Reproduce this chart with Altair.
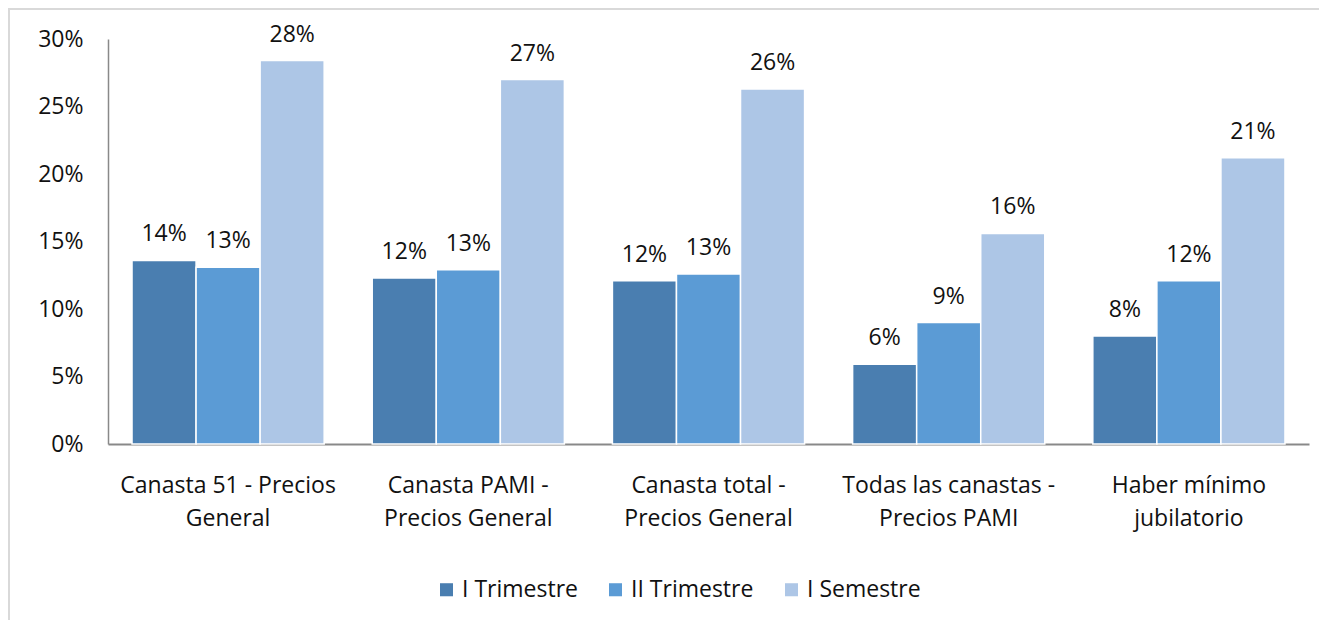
import altair as alt
import pandas as pd

categories = [
    "Canasta 51 - Precios\nGeneral",
    "Canasta PAMI -\nPrecios General",
    "Canasta total -\nPrecios General",
    "Todas las canastas -\nPrecios PAMI",
    "Haber mínimo\njubilatorio",
]
series = ["I Trimestre", "II Trimestre", "I Semestre"]
i_trimestre = [0.136, 0.123, 0.121, 0.059, 0.080]
ii_trimestre = [0.131, 0.129, 0.126, 0.090, 0.121]
i_semestre = [0.284, 0.270, 0.263, 0.156, 0.212]
y_ticks = [0, 0.05, 0.10, 0.15, 0.20, 0.25, 0.30]
colors = ["#4A7EB0", "#5B9BD5", "#ADC6E6"]

rows = []
for name, vals in zip(series, [i_trimestre, ii_trimestre, i_semestre]):
    for c, v in zip(categories, vals):
        rows.append({"cat": c, "serie": name, "value": v})
df = pd.DataFrame(rows)

FONT = "Open Sans"
FS = 23
W, H = 1201, 405

base = alt.Chart(df).encode(
    x=alt.X(
        "cat:N",
        sort=categories,
        scale=alt.Scale(paddingInner=0.2, paddingOuter=0.1),
        axis=alt.Axis(
            title=None,
            labelAngle=0,
            labelExpr="split(datum.label, '\\n')",
            labelLineHeight=33,
            labelPadding=30,
            labelFontSize=FS,
            labelFont=FONT,
            labelColor="#111111",
            labelLimit=0,
            ticks=False,
            domainColor="#898989",
            domainWidth=2,
            labelBaseline="top",
        ),
    ),
    xOffset=alt.XOffset("serie:N", sort=series),
    y=alt.Y(
        "value:Q",
        scale=alt.Scale(domain=[0, 0.3], nice=False),
        axis=alt.Axis(
            title=None,
            values=y_ticks,
            format=".0%",
            grid=False,
            ticks=False,
            labelPadding=25,
            labelFontSize=FS,
            labelFont=FONT,
            labelColor="#111111",
            domainColor="#898989",
            domainWidth=1.5,
        ),
    ),
)

bars = base.mark_bar(stroke="white", strokeWidth=1.5).encode(
    color=alt.Color(
        "serie:N",
        sort=series,
        scale=alt.Scale(domain=series, range=colors),
        legend=alt.Legend(
            title=None,
            orient="none",
            direction="horizontal",
            legendX=327,
            legendY=539,
            symbolType="square",
            symbolSize=170,
            symbolStrokeWidth=0,
            labelFontSize=FS,
            labelFont=FONT,
            labelColor="#111111",
            labelOffset=4,
            labelLimit=0,
            columnPadding=26,
        ),
    )
)

labels = base.mark_text(dy=-26, fontSize=FS, font=FONT, color="#111111").encode(
    text=alt.Text("value:Q", format=".0%")
)

frame_top = alt.Chart(df).mark_rule(color="#D9D9D9", strokeWidth=2).encode(
    x=alt.value(-100), x2=alt.value(1230), y=alt.value(-30)
)
frame_left = alt.Chart(df).mark_rule(color="#D9D9D9", strokeWidth=2).encode(
    x=alt.value(-99), y=alt.value(-30), y2=alt.value(620)
)

chart = (
    alt.layer(frame_top, frame_left, bars, labels)
    .properties(
        width=W,
        height=H,
        background="white",
        autosize=alt.AutoSizeParams(type="none"),
        padding={"left": 100, "top": 31, "right": 10, "bottom": 176},
    )
    .configure_view(strokeWidth=0, stroke="transparent")
)

chart.save("out.html", embed_options={"renderer": "svg", "actions": False})
